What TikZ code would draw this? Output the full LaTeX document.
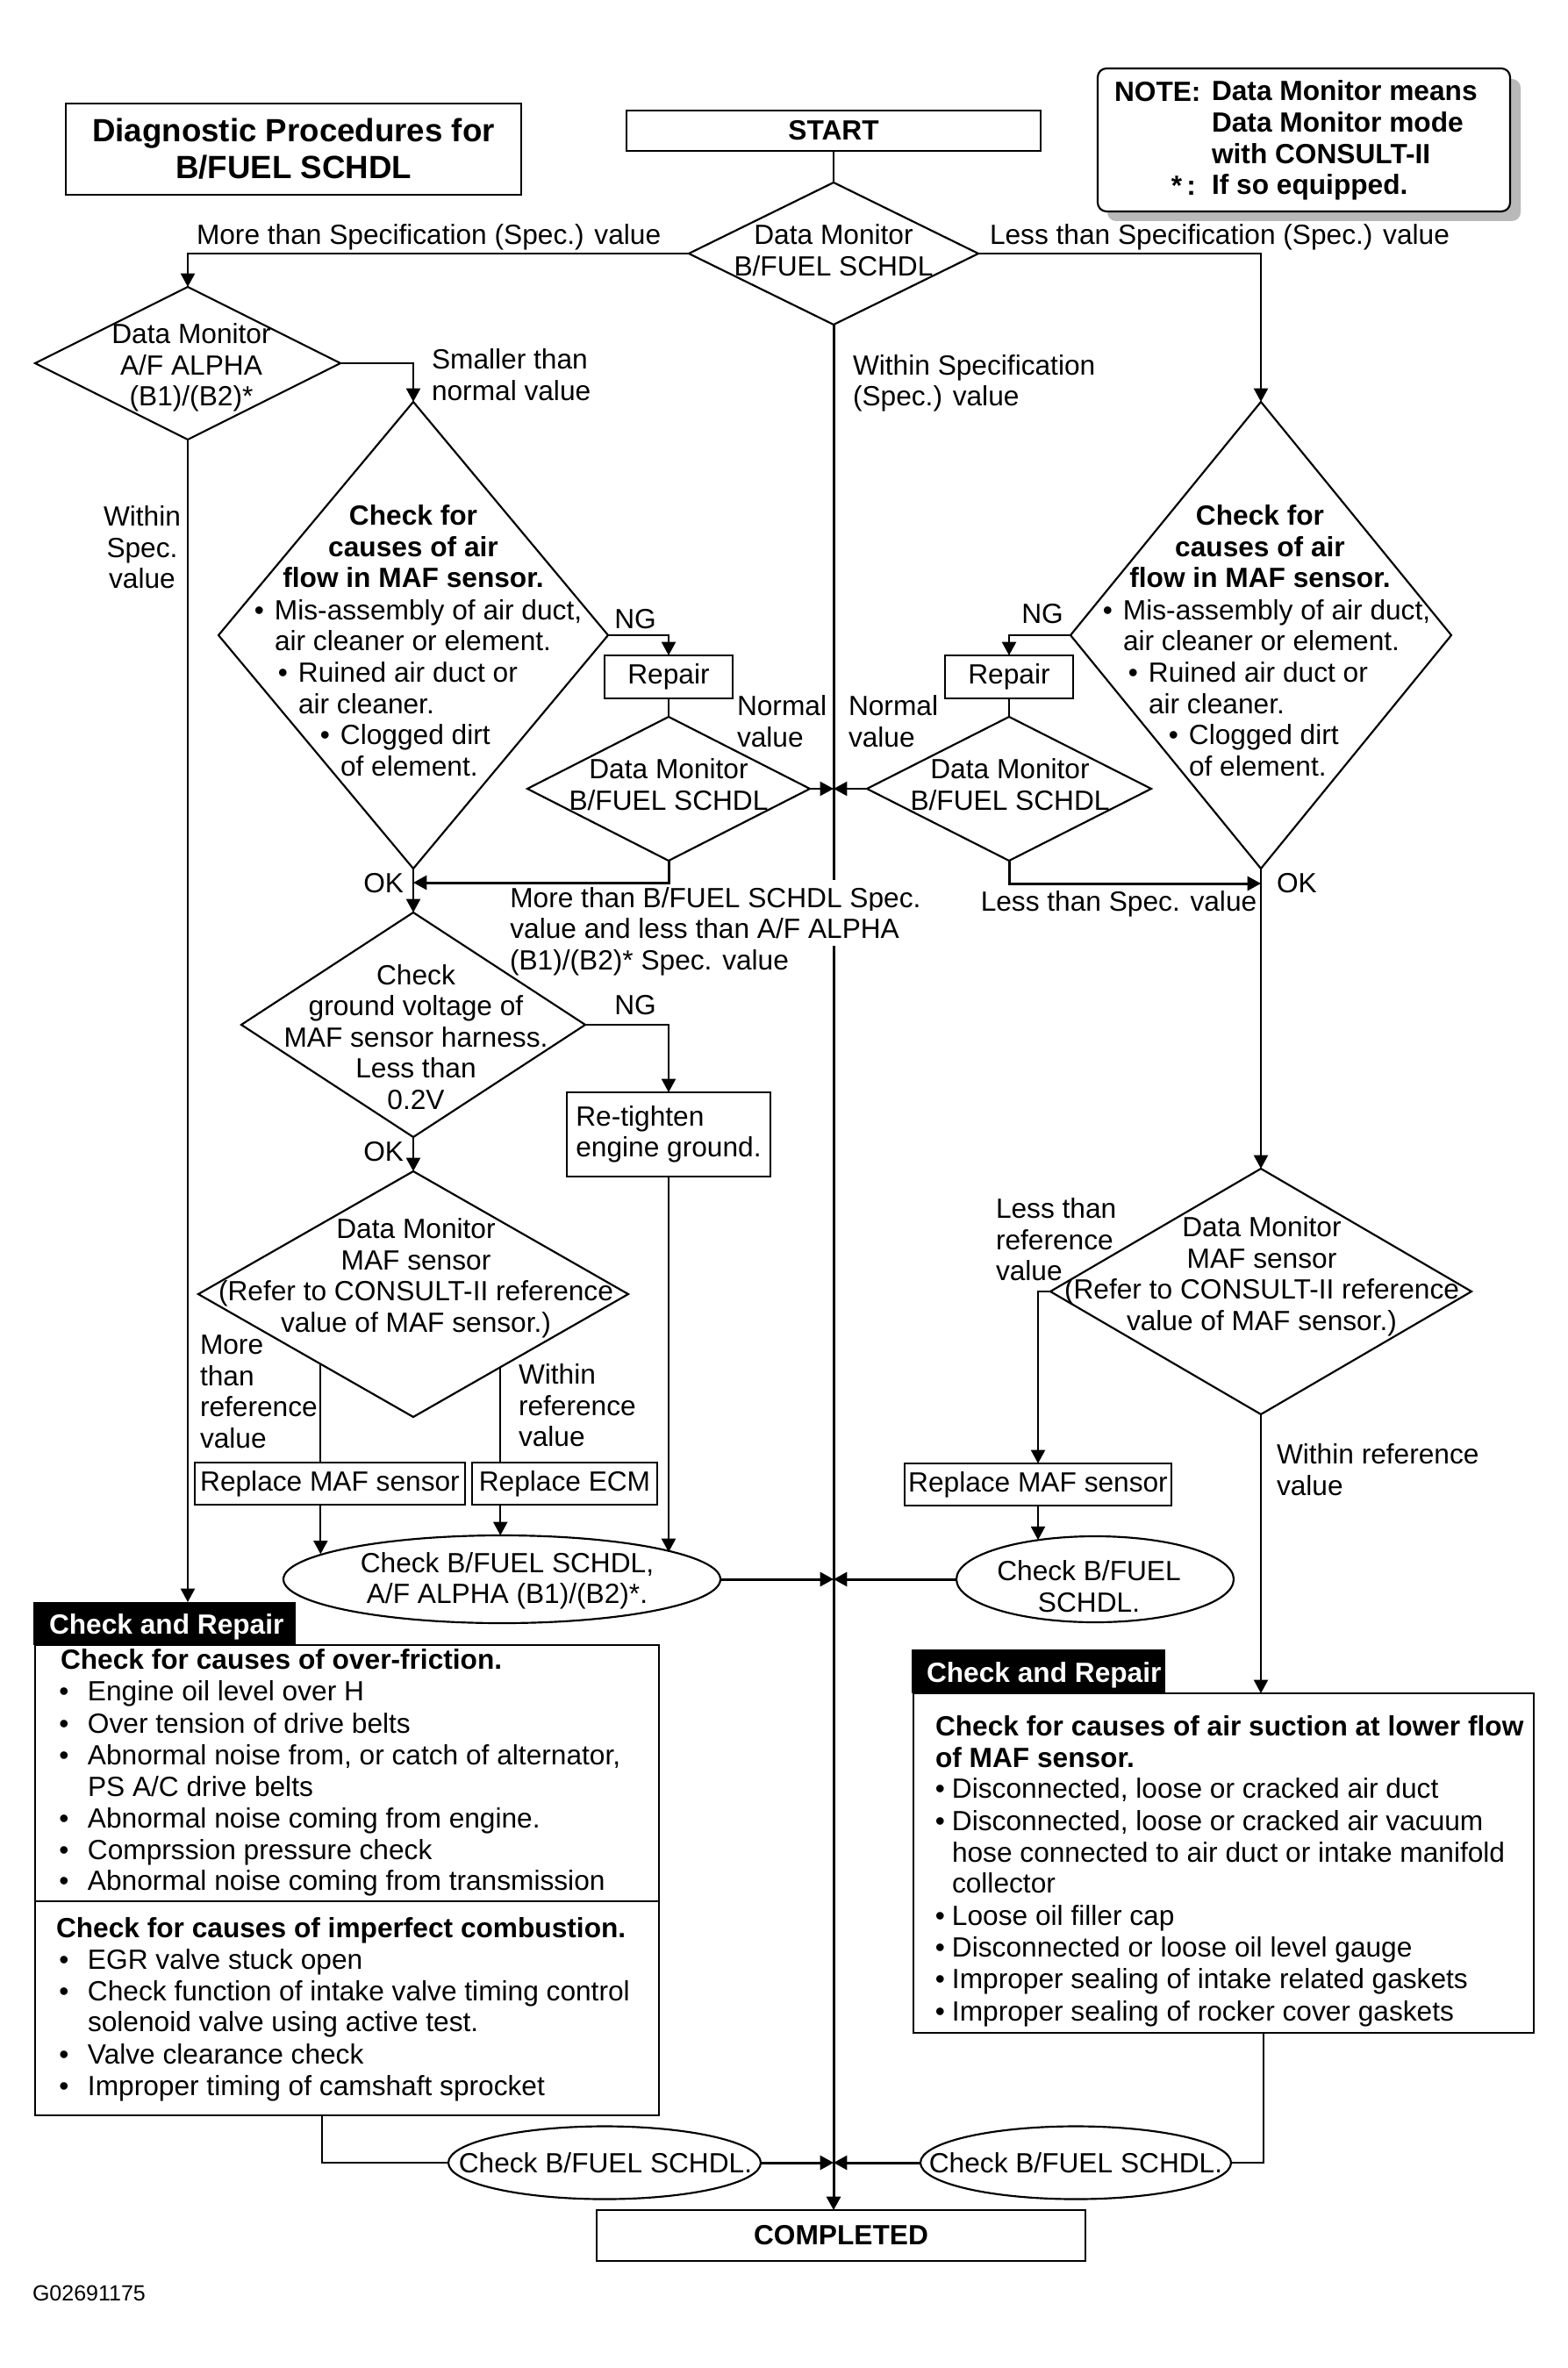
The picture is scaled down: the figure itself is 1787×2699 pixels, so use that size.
\documentclass[tikz,border=0pt]{standalone}
\usepackage{fontspec}
\setmainfont{Liberation Sans}
\usetikzlibrary{arrows.meta,shapes.geometric,calc}
\newcommand\bl[1][3.6pt]{\llap{\textbullet\hspace{#1}}}
\begin{document}
\begin{tikzpicture}[x=0.3pt,y=-0.3pt,
  every node/.style={inner sep=0pt, outer sep=0pt},
  lw/.style={line width=0.65pt},
  ln/.style={lw},
  arr/.style={lw,-{Triangle[length=4.6pt,width=4.8pt]}},
  mw/.style={minimum width=#1*0.3pt},
  mh/.style={minimum height=#1*0.3pt},
  dia/.style={draw,lw,shape=diamond},
  ell/.style={draw,lw,shape=ellipse},
  bx/.style={draw,lw,rectangle},
  f/.style={font=\fontsize{9.5}{10.65}\selectfont},
  fb/.style={font=\fontsize{9.5}{10.65}\selectfont\bfseries},
  li/.style={font=\fontsize{9.5}{10.8}\selectfont, anchor=west, text height=6.8pt, text depth=0pt},
  lib/.style={font=\fontsize{9.5}{10.8}\selectfont\bfseries, anchor=west, text height=6.8pt, text depth=0pt},
]
\useasboundingbox (0,0) rectangle (1787,2699);

% ---------- note ----------
\fill[gray!55, rounded corners=3pt] (1262,90) rectangle (1733,252);
\node[bx, fill=white, rounded corners=3pt, mw=470, mh=163] (note) at (1486,159.5) {};
\node[fb, anchor=west] (noteA) at (1270,105) {NOTE:};
\node[fb, anchor=west, align=left, font=\fontsize{9.5}{10.7}\selectfont\bfseries] (noteB) at (1381,160) {Data Monitor means\\Data Monitor mode\\with CONSULT-II\\If so equipped.};
\node[fb, anchor=east] (noteC) at (1363,212) {*\,:};

% ---------- title, start ----------
\node[bx, mw=519, mh=104, font=\fontsize{11}{12.6}\selectfont\bfseries, align=center] (title) at (334.5,170) {Diagnostic Procedures for\\B/FUEL SCHDL};
\node[bx, mw=472, mh=46, fb] (start) at (950,149) {START};

% ---------- first decision ----------
\node[dia, mw=330, mh=162] (d1) at (950,289) {};
\node[f, align=center] (d1t) at (950,285) {Data Monitor\\B/FUEL SCHDL};
\draw[ln] (start.south) -- (d1.north);

% ---------- completed and central line ----------
\node[bx, mw=557, mh=58, fb] (comp) at (958.5,2548) {COMPLETED};
\draw[arr, line width=0.9pt] (d1.south) -- (d1.south |- comp.north);
\node[li, fill=white, inner xsep=1pt, inner ysep=2.5pt] (mb1) at (578,1023) {More than B/FUEL SCHDL Spec.};
\node[li, fill=white, inner xsep=1pt, inner ysep=2.5pt] (mb2) at (578,1058) {value and less than A/F ALPHA};
\node[li] (mb3) at (581,1094) {(B1)/(B2)* Spec. value};
\node[f, anchor=west, align=left] (lblWS) at (972,437) {Within Specification\\(Spec.) value};

% ---------- left branch ----------
\node[dia, mw=348, mh=174] (d2) at (214,414) {};
\node[f, align=center] (d2t) at (218,419) {Data Monitor\\A/F ALPHA\\(B1)/(B2)*};
\draw[arr] (d1.west) -| (d2.north);
\node[f, anchor=west] (lblMore) at (224,270) {More than Specification (Spec.) value};

% ---------- right branch ----------
\node[dia, mw=434, mh=532] (dR) at (1437,724) {};
\draw[arr] (d1.east) -| (dR.north);
\node[f, anchor=west] (lblLess) at (1128,270) {Less than Specification (Spec.) value};
\node[fb, align=center] (dRt) at (1436,623) {Check for\\causes of air\\flow in MAF sensor.};
\node[li] (dR1) at (1280,695) {\bl Mis-assembly of air duct,};
\node[li] (dR2) at (1280,730) {air cleaner or element.};
\node[li] (dR3) at (1309,766) {\bl Ruined air duct or};
\node[li] (dR4) at (1309,802) {air cleaner.};
\node[li] (dR5) at (1355,837) {\bl Clogged dirt};
\node[li] (dR6) at (1355,873) {of element.};

% ---------- left big diamond ----------
\node[dia, mw=444, mh=532] (dL) at (471,724) {};
\draw[arr] (d2.east) -| (dL.north);
\node[f, anchor=west, align=left] (lblSm) at (492,427) {Smaller than\\normal value};
\node[fb, align=center] (dLt) at (471,623) {Check for\\causes of air\\flow in MAF sensor.};
\node[li] (dL1) at (313,695) {\bl Mis-assembly of air duct,};
\node[li] (dL2) at (313,730) {air cleaner or element.};
\node[li] (dL3) at (340,766) {\bl Ruined air duct or};
\node[li] (dL4) at (340,802) {air cleaner.};
\node[li] (dL5) at (388,837) {\bl Clogged dirt};
\node[li] (dL6) at (388,873) {of element.};

% ---------- left Repair loop ----------
\node[bx, mw=146, mh=49, f] (repL) at (762,771.5) {Repair};
\draw[arr] (dL.east) -| (repL.north);
\node[f] (ngL1) at (724,706) {NG};
\node[dia, mw=322, mh=164] (d3L) at (762,899) {};
\node[f, align=center] (d3Lt) at (762,894) {Data Monitor\\B/FUEL SCHDL};
\draw[ln] (repL.south) -- (d3L.north);
\coordinate (c3) at (d1.south |- d3L.east);
\draw[arr] (d3L.east) -- (c3);
\node[f, anchor=west, align=left] (nvL) at (840,822) {Normal\\value};
\coordinate (okL) at (471,1006);
\draw[arr, line width=0.9pt] (d3L.south) |- (okL);
\node[f, anchor=east] (okLt) at (460,1007) {OK};

% ---------- right Repair loop ----------
\node[bx, mw=146, mh=49, f] (repR) at (1150,771.5) {Repair};
\draw[arr] (dR.west) -| (repR.north);
\node[f] (ngR) at (1188,700) {NG};
\node[dia, mw=324, mh=164] (d3R) at (1150,899) {};
\node[f, align=center] (d3Rt) at (1151,894) {Data Monitor\\B/FUEL SCHDL};
\draw[ln] (repR.south) -- (d3R.north);
\draw[arr] (d3R.west) -- (c3);
\node[f, anchor=west, align=left] (nvR) at (967,822) {Normal\\value};
\coordinate (okR) at (1437,1007);
\draw[arr, line width=0.9pt] (d3R.south) |- (okR);
\node[f] (lsv) at (1275,1030) {Less than Spec. value};
\node[f, anchor=west] (okRt) at (1455,1007) {OK};

% ---------- ground voltage ----------
\node[dia, mw=392, mh=256] (d4) at (471,1168) {};
\draw[arr] (dL.south) -- (d4.north);
\node[f, align=center] (d4t) at (474,1182) {Check\\ground voltage of\\MAF sensor harness.\\Less than\\0.2V};
\node[bx, mw=232, mh=96, f, align=left] (ret) at (762,1293) {Re-tighten\\engine ground.};
\draw[arr] (d4.east) -| (ret.north);
\node[f] (ngL2) at (724,1146) {NG};

% ---------- left MAF sensor check ----------
\node[dia, mw=490, mh=280] (d5L) at (471,1475) {};
\draw[arr] (d4.south) -- (d5L.north);
\node[f, anchor=east] (okL2) at (460,1313) {OK};
\node[f, align=center] (d5Lt) at (474,1457) {Data Monitor\\MAF sensor\\(Refer to CONSULT-II reference\\value of MAF sensor.)};
\node[bx, mw=308, mh=48, f] (rmafL) at (376,1691) {Replace MAF sensor};
\node[bx, mw=211, mh=48, f] (recm) at (643.5,1691) {Replace ECM};
\node[ell, mw=498, mh=100] (e1) at (572,1800) {};
\node[f, align=center] (e1t) at (578,1802) {Check B/FUEL SCHDL,\\A/F ALPHA (B1)/(B2)*.};
\draw[ln] (d5L.217.8) -- (d5L.217.8 |- rmafL.north);
\draw[arr] (d5L.217.8 |- rmafL.south) -- (d5L.217.8 |- e1.172);
\draw[ln] (d5L.320.3) -- (d5L.320.3 |- recm.north);
\draw[arr] (d5L.320.3 |- recm.south) -- (d5L.320.3 |- e1.north);
\draw[arr] (ret.south) -- (ret.south |- e1.9.6);
\node[f, anchor=west, align=left] (lmr) at (228,1586) {More\\than\\reference\\value};
\node[f, anchor=west, align=left] (lwr) at (591,1602) {Within\\reference\\value};
\coordinate (c5) at (d1.south |- e1.east);
\draw[arr, line width=0.9pt] (e1.east) -- (c5);

% ---------- right MAF sensor check ----------
\node[dia, mw=480, mh=280] (d5R) at (1437,1472) {};
\draw[arr] (dR.south) -- (d5R.north);
\node[f, align=center] (d5Rt) at (1438,1455) {Data Monitor\\MAF sensor\\(Refer to CONSULT-II reference\\value of MAF sensor.)};
\node[bx, mw=304, mh=48, f] (rmafR) at (1183,1692) {Replace MAF sensor};
\draw[arr] (d5R.west) -| (rmafR.north);
\node[f, anchor=west, align=left] (llr) at (1135,1413) {Less than\\reference\\value};
\node[ell, mw=316, mh=98] (eR) at (1248,1800) {};
\node[f, align=center] (eRt) at (1241,1808) {Check B/FUEL\\SCHDL.};
\draw[arr] (rmafR.south) -- (rmafR.south |- eR.145.5);
\draw[arr, line width=0.9pt] (eR.west) -- (c5);
\node[f, anchor=west, align=left] (lwr2) at (1455,1675) {Within reference\\value};

% ---------- left Check and Repair ----------
\node[bx, fill=white, mw=711, mh=536] (boxL) at (395.5,2143) {};
\node[fill=black, mw=299, mh=49] (tabL) at (187.5,1850.5) {};
\node[lib, text=white] (tabLt) at (56,1851) {Check and Repair};
\draw[arr] (d2.south) -- (d2.south |- tabL.north);
\node[f, align=center] (lws) at (162,624) {Within\\Spec.\\value};
\coordinate (dv) at (0,2167);
\draw[ln] (boxL.west |- dv) -- (boxL.east |- dv);
\node[lib] (hL1) at (69,1891) {Check for causes of over-friction.};
\node[li] (bL1) at (100,1927) {\bl[6.5pt]Engine oil level over H};
\node[li] (bL2) at (100,1964) {\bl[6.5pt]Over tension of drive belts};
\node[li] (bL3) at (100,2000) {\bl[6.5pt]Abnormal noise from, or catch of alternator,};
\node[li] (bL4) at (100,2036) {PS A/C drive belts};
\node[li] (bL5) at (100,2072) {\bl[6.5pt]Abnormal noise coming from engine.};
\node[li] (bL6) at (100,2108) {\bl[6.5pt]Comprssion pressure check};
\node[li] (bL7) at (100,2143) {\bl[6.5pt]Abnormal noise coming from transmission};
\node[lib] (hL2) at (64,2197) {Check for causes of imperfect combustion.};
\node[li] (cL1) at (100,2233) {\bl[6.5pt]EGR valve stuck open};
\node[li] (cL2) at (100,2269) {\bl[6.5pt]Check function of intake valve timing control};
\node[li] (cL3) at (100,2304) {solenoid valve using active test.};
\node[li] (cL4) at (100,2341) {\bl[6.5pt]Valve clearance check};
\node[li] (cL5) at (100,2377) {\bl[6.5pt]Improper timing of camshaft sprocket};

% ---------- right Check and Repair ----------
\node[bx, fill=white, mw=707, mh=387] (boxR) at (1394.5,2123.5) {};
\node[fill=black, mw=289, mh=50] (tabR) at (1183.5,1905) {};
\node[lib, text=white] (tabRt) at (1056,1906) {Check and Repair};
\draw[arr] (d5R.south) -- (d5R.south |- boxR.north);
\node[lib] (hR1) at (1066,1967) {Check for causes of air suction at lower flow};
\node[lib] (hR2) at (1066,2003) {of MAF sensor.};
\node[li] (bR1) at (1085,2038) {\bl[2.4pt]Disconnected, loose or cracked air duct};
\node[li] (bR2) at (1085,2075) {\bl[2.4pt]Disconnected, loose or cracked air vacuum};
\node[li] (bR3) at (1085,2111) {hose connected to air duct or intake manifold};
\node[li] (bR4) at (1085,2146) {collector};
\node[li] (bR5) at (1085,2183) {\bl[2.4pt]Loose oil filler cap};
\node[li] (bR6) at (1085,2219) {\bl[2.4pt]Disconnected or loose oil level gauge};
\node[li] (bR7) at (1085,2255) {\bl[2.4pt]Improper sealing of intake related gaskets};
\node[li] (bR8) at (1085,2292) {\bl[2.4pt]Improper sealing of rocker cover gaskets};

% ---------- final checks ----------
\node[ell, mw=356, mh=83] (e3) at (689,2465) {};
\node[f] (e3t) at (690,2465) {Check B/FUEL SCHDL.};
\node[ell, mw=354, mh=83] (e4) at (1226,2465) {};
\node[f] (e4t) at (1226,2465) {Check B/FUEL SCHDL.};
\coordinate (c7) at (d1.south |- e3.east);
\draw[arr, line width=0.9pt] (e3.east) -- (c7);
\draw[arr, line width=0.9pt] (e4.west) -- (c7);
\draw[ln] ($(boxL.south west)!0.46!(boxL.south east)$) |- (e3.west);
\draw[ln] ($(boxR.south west)!0.564!(boxR.south east)$) |- (e4.east);

\node[anchor=west, font=\fontsize{7.5}{9}\selectfont] (code) at (37,2614) {G02691175};
\end{tikzpicture}
\end{document}
